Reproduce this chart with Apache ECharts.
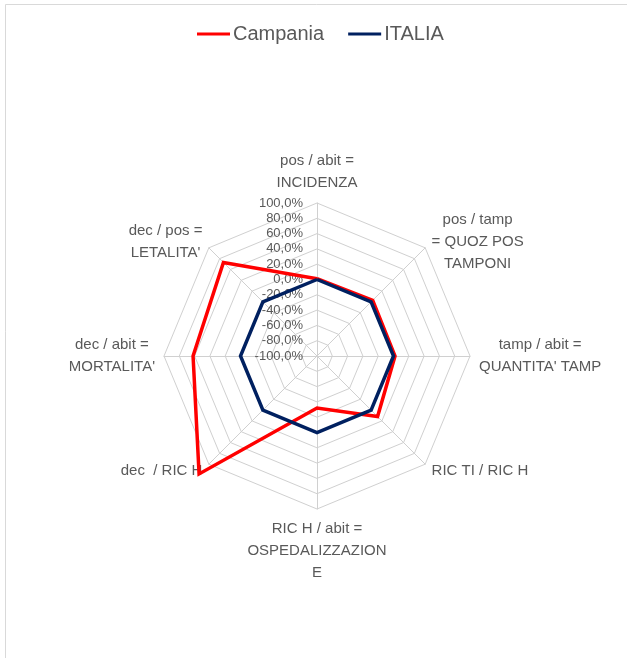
<!DOCTYPE html>
<html>
<head>
<meta charset="utf-8">
<script src="https://cdn.jsdelivr.net/npm/echarts@6/dist/echarts.min.js"></script>
<style>
  html, body { margin: 0; padding: 0; background: #fff; }
  #chart { width: 627px; height: 658px; }
</style>
</head>
<body>
<div id="chart"></div>
<script>
// Indicators, listed clockwise starting from the top
const categories = [
  'pos / abit =\nINCIDENZA',
  'pos / tamp\n= QUOZ POS\nTAMPONI',
  "tamp / abit =\nQUANTITA' TAMP",
  'RIC TI / RIC H',
  'RIC H / abit =\nOSPEDALIZZAZION\nE',
  'dec  / RIC H',
  "dec / abit =\nMORTALITA'",
  "dec / pos =\nLETALITA'"
];
// Relative deviation from the national value (1 = 100%)
const campania = [0.01, 0.03, 0.02, 0.12, -0.32, 1.18, 0.62, 0.73];
const italia   = [0, 0, 0, 0, 0, 0, 0, 0];
const seriesNames = ['Campania', 'ITALIA'];
const seriesColors = ['#FF0000', '#002060'];

const TEXT = '#595959';
const GRID = '#D0D0D0';
const FONT = "'Liberation Sans', Arial, sans-serif";

// ECharts lays radar indicators out counter-clockwise; reorder so they run clockwise
const order = categories.map((_, i) => (categories.length - i) % categories.length);
const reorder = arr => order.map(i => arr[i]);

const pct = v => (Math.round(v * 1000) / 10).toFixed(1).replace('.', ',') + '%';

const indicators = reorder(categories).map((name, i) => {
  const ind = { name: name, min: -1, max: 1 };
  if (i === 0) {
    ind.axisLabel = {
      show: true, color: TEXT, fontSize: 13, fontFamily: FONT,
      margin: 14, formatter: pct
    };
  }
  return ind;
});

const chart = echarts.init(document.getElementById('chart'), null, { renderer: 'canvas' });
chart.setOption({
  backgroundColor: '#fff',
  animation: false,
  color: seriesColors,
  graphic: [{
    type: 'rect',
    shape: { x: 5.5, y: 4.5, width: 700, height: 700 },
    style: { fill: 'none', stroke: '#D9D9D9', lineWidth: 1 },
    silent: true
  }],
  legend: {
    top: 19,
    left: 192,
    icon: 'rect',
    itemWidth: 33,
    itemHeight: 3,
    itemGap: 24,
    textStyle: { color: TEXT, fontSize: 20, fontFamily: FONT, padding: [0, 0, 0, -2] },
    data: seriesNames
  },
  radar: {
    center: [317, 356],
    radius: 153,
    startAngle: 90,
    splitNumber: 10,
    shape: 'polygon',
    indicator: indicators,
    axisName: {
      color: TEXT,
      fontSize: 15,
      fontFamily: FONT,
      lineHeight: 22,
      formatter: n => n.split('\n').map(s => '{c|' + s + '}').join('\n'),
      rich: { c: { align: 'center', color: TEXT, fontSize: 15, fontFamily: FONT, lineHeight: 22 } }
    },
    nameGap: 9,
    axisLine: { lineStyle: { color: GRID, width: 1 } },
    splitLine: { lineStyle: { color: GRID, width: 1 } },
    splitArea: { show: false },
    axisTick: { show: false },
    axisLabel: { show: false }
  },
  series: [{
    type: 'radar',
    symbol: 'none',
    data: [
      { name: seriesNames[0], value: reorder(campania),
        lineStyle: { color: seriesColors[0], width: 3.5, join: 'miter' },
        itemStyle: { color: seriesColors[0] } },
      { name: seriesNames[1], value: reorder(italia),
        lineStyle: { color: seriesColors[1], width: 3.5, join: 'miter' },
        itemStyle: { color: seriesColors[1] } }
    ]
  }]
});
</script>
</body>
</html>
